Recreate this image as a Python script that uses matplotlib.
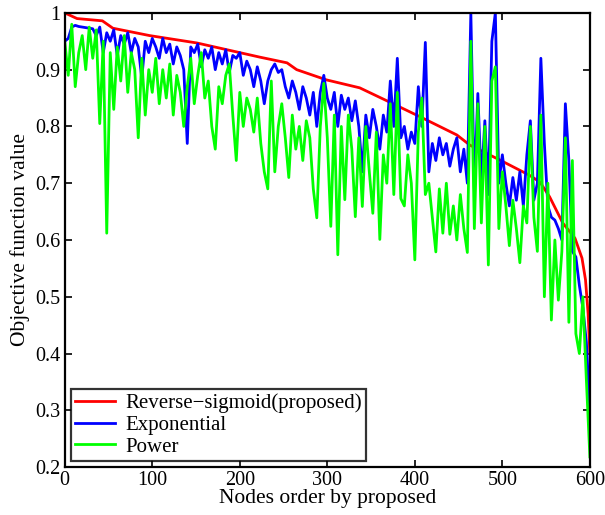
import numpy as np
import matplotlib
matplotlib.use("Agg")
import matplotlib.pyplot as plt

# node index of every sample (every 4th node)
nodes = list(range(0, 601, 4))

# reverse-sigmoid curve, read at knots
red_nodes = [0, 14, 43, 55, 97, 151, 223, 254, 265, 299, 337, 371, 406, 448,
             463, 497, 531, 543, 554, 569, 583, 591, 595, 598, 600]
red_vals = [1.0, 0.99, 0.986, 0.973, 0.96, 0.947, 0.922, 0.912, 0.9, 0.882,
            0.868, 0.843, 0.817, 0.785, 0.767, 0.741, 0.714, 0.702, 0.676,
            0.63, 0.603, 0.568, 0.53, 0.47, 0.40]

blue_vals = [
    0.95, 0.955, 0.975, 0.978, 0.976, 0.975, 0.974, 0.973, 0.972, 0.96, 0.975,
    0.93, 0.965, 0.95, 0.97, 0.925, 0.96, 0.945, 0.965, 0.93, 0.955, 0.94,
    0.885, 0.95, 0.93, 0.955,
    0.94, 0.92, 0.955, 0.93, 0.945, 0.91, 0.94, 0.925, 0.90, 0.77,
    0.94, 0.93, 0.945, 0.905, 0.935, 0.92, 0.94, 0.90, 0.93, 0.91, 0.935,
    0.895, 0.925, 0.92, 0.93,
    0.89, 0.915, 0.90, 0.87, 0.905, 0.88, 0.84, 0.88, 0.90, 0.91,
    0.895, 0.90, 0.87, 0.85, 0.88, 0.86, 0.83, 0.87, 0.85, 0.82, 0.86, 0.80,
    0.86, 0.89, 0.85, 0.83, 0.86, 0.80, 0.855, 0.83, 0.85, 0.81, 0.845, 0.80,
    0.72,
    0.82, 0.78, 0.83, 0.80, 0.76, 0.82, 0.79, 0.88, 0.80, 0.92, 0.78, 0.80,
    0.76, 0.79, 0.77,
    0.87, 0.80, 0.948, 0.72, 0.77, 0.74, 0.78, 0.75, 0.77, 0.73,
    0.76, 0.78, 0.72, 0.76, 0.70, 1.0, 0.69, 0.858, 0.70, 0.81, 0.68, 0.95,
    1.0, 0.70, 0.75,
    0.70, 0.66, 0.71, 0.67, 0.72, 0.66, 0.75, 0.81, 0.67, 0.70,
    0.92, 0.77, 0.66, 0.64, 0.635, 0.62, 0.60, 0.84, 0.74, 0.58, 0.57, 0.52,
    0.48, 0.42, 0.30,
]

green_vals = [
    0.95, 0.89, 0.98, 0.87, 0.93, 0.96, 0.90, 0.975, 0.92, 0.97, 0.805,
    0.95, 0.612, 0.93, 0.83, 0.94, 0.88, 0.96, 0.86, 0.93, 0.90, 0.78, 0.92,
    0.82, 0.90, 0.86,
    0.92, 0.84, 0.90, 0.85, 0.91, 0.82, 0.89, 0.86, 0.80, 0.87,
    0.92, 0.84, 0.89, 0.93, 0.85, 0.88, 0.80, 0.76, 0.87, 0.84, 0.89, 0.91,
    0.82, 0.74, 0.86,
    0.80, 0.85, 0.83, 0.79, 0.85, 0.77, 0.72, 0.69, 0.88, 0.72,
    0.80, 0.84, 0.78, 0.71, 0.82, 0.76, 0.80, 0.74, 0.81, 0.78, 0.69, 0.639,
    0.80, 0.876, 0.78, 0.624, 0.82, 0.574, 0.80, 0.671, 0.82, 0.76, 0.641,
    0.78, 0.659,
    0.80, 0.72, 0.647, 0.79, 0.601, 0.75, 0.70, 0.84, 0.68, 0.86, 0.673,
    0.66, 0.75, 0.70, 0.565,
    0.79, 0.85, 0.68, 0.70, 0.64, 0.579, 0.69, 0.612, 0.70, 0.61,
    0.66, 0.60, 0.68, 0.62, 0.578, 0.95, 0.62, 0.84, 0.63, 0.80, 0.556, 0.88,
    0.905, 0.62, 0.72,
    0.66, 0.59, 0.67, 0.62, 0.56, 0.66, 0.63, 0.80, 0.64, 0.58,
    0.82, 0.50, 0.70, 0.459, 0.60, 0.494, 0.58, 0.78, 0.455, 0.74, 0.435,
    0.40, 0.50, 0.353, 0.218,
]

x_ticks = [0, 100, 200, 300, 400, 500, 600]
y_ticks = [0.2, 0.3, 0.4, 0.5, 0.6, 0.7, 0.8, 0.9, 1.0]
y_tick_labels = ["0.2", "0.3", "0.4", "0.5", "0.6", "0.7", "0.8", "0.9", "1"]

plt.rcParams["font.family"] = ["Liberation Serif", "DejaVu Serif"]

fig = plt.figure(figsize=(6.05, 5.15), dpi=100)
ax = fig.add_axes([0.107, 0.093, 0.868, 0.882])

ax.plot(red_nodes, red_vals, color=(1, 0, 0), lw=2.0,
        label="Reverse\u2212sigmoid(proposed)")
ax.plot(nodes, blue_vals, color=(0, 0, 1), lw=2.0, label="Exponential")
ax.plot(nodes, green_vals, color=(0, 1, 0), lw=2.0, label="Power")

ax.set_xlim(0, 600)
ax.set_ylim(0.2, 1.0)
ax.set_xticks(x_ticks)
ax.set_yticks(y_ticks)
ax.set_yticklabels(y_tick_labels)
ax.tick_params(direction="in", top=True, right=True, length=5, width=1.2,
               labelsize=14.5, pad=3)
for s in ax.spines.values():
    s.set_linewidth(1.6)

ax.set_xlabel("Nodes order by proposed", fontsize=15.5, labelpad=-1)
ax.set_ylabel("Objective function value", fontsize=15.5, labelpad=4)

leg = ax.legend(loc="lower left", fontsize=15, frameon=True, fancybox=False,
                edgecolor="black", handlelength=1.9, handletextpad=0.5,
                borderpad=0.2, labelspacing=0.1, borderaxespad=0.3)
leg.get_frame().set_linewidth(1.6)

fig.savefig("out.png", dpi=100)
